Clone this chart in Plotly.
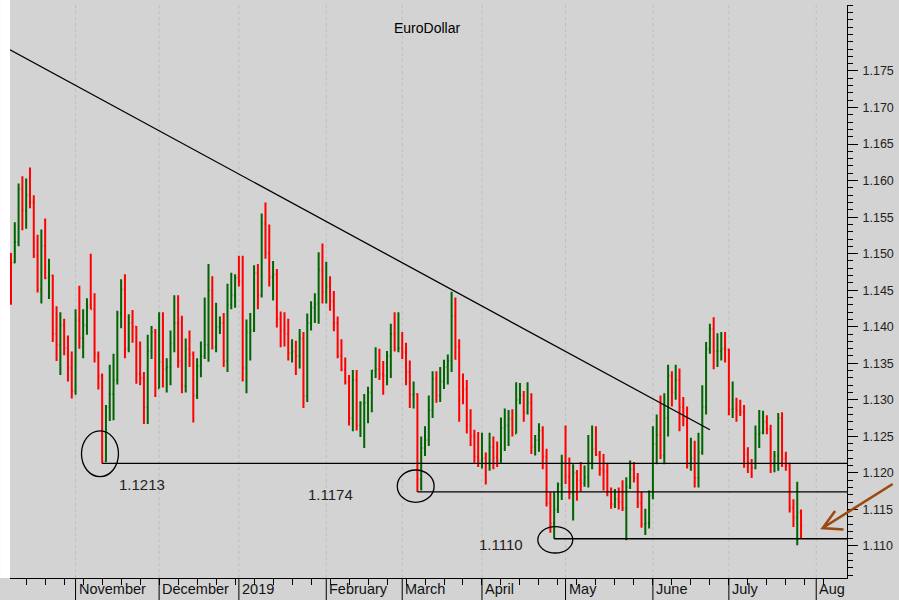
import pandas as pd
import plotly.graph_objects as go

# ---------------- data (EUR/USD daily bars) ----------------
dates = pd.bdate_range("2018-10-09", "2019-07-26")

opens = [
    1.1495, 1.1488, 1.1516, 1.1589, 1.1559, 1.1580, 1.1570, 1.1497, 1.1451, 1.1511,
    1.1467, 1.1470, 1.1390, 1.1375, 1.1402, 1.1371, 1.1344, 1.1312, 1.1409, 1.1385,
    1.1402, 1.1430, 1.1424, 1.1360, 1.1333, 1.1216, 1.1290, 1.1308, 1.1327, 1.1418,
    1.1451, 1.1370, 1.1405, 1.1400, 1.1335, 1.1330, 1.1290, 1.1367, 1.1393, 1.1316,
    1.1352, 1.1342, 1.1345, 1.1377, 1.1405, 1.1353, 1.1319, 1.1370, 1.1362, 1.1306,
    1.1346, 1.1360, 1.1375, 1.1450, 1.1372, 1.1400, 1.1405, 1.1353, 1.1430, 1.1443,
    1.1467, 1.1462, 1.1344, 1.1392, 1.1395, 1.1474, 1.1443, 1.1541, 1.1501, 1.1468,
    1.1472, 1.1411, 1.1395, 1.1390, 1.1364, 1.1366, 1.1360, 1.1384, 1.1305, 1.1405,
    1.1426, 1.1431, 1.1478, 1.1448, 1.1455, 1.1435, 1.1405, 1.1360, 1.1342, 1.1324,
    1.1275, 1.1327, 1.1265, 1.1295, 1.1296, 1.1310, 1.1340, 1.1342, 1.1335, 1.1333,
    1.1360, 1.1390, 1.1370, 1.1371, 1.1365, 1.1338, 1.1307, 1.1308, 1.1191, 1.1234,
    1.1245, 1.1286, 1.1329, 1.1306, 1.1325, 1.1345, 1.1353, 1.1415, 1.1373, 1.1318,
    1.1314, 1.1265, 1.1250, 1.1222, 1.1217, 1.1220, 1.1213, 1.1235, 1.1221, 1.1217,
    1.1261, 1.1265, 1.1274, 1.1254, 1.1300, 1.1306, 1.1283, 1.1296, 1.1236, 1.1245,
    1.1258, 1.1222, 1.1159, 1.1131, 1.1150, 1.1184, 1.1215, 1.1195, 1.1172, 1.1200,
    1.1190, 1.1186, 1.1194, 1.1215, 1.1233, 1.1225, 1.1205, 1.1202, 1.1174, 1.1157,
    1.1164, 1.1160, 1.1152, 1.1181, 1.1205, 1.1193, 1.1158, 1.1130, 1.1131, 1.1169,
    1.1240, 1.1252, 1.1224, 1.1275, 1.1333, 1.1310, 1.1327, 1.1290, 1.1275, 1.1210,
    1.1220, 1.1193, 1.1228, 1.1290, 1.1370, 1.1397, 1.1366, 1.1367, 1.1370, 1.1369,
    1.1287, 1.1288, 1.1285, 1.1283, 1.1225, 1.1213, 1.1207, 1.1253, 1.1255, 1.1270,
    1.1260, 1.1210, 1.1223, 1.1275, 1.1219, 1.1211, 1.1152, 1.1139, 1.1146,
]
highs = [
    1.1501, 1.1543, 1.1596, 1.1606, 1.1603, 1.1618, 1.1580, 1.1526, 1.1533, 1.1548,
    1.1493, 1.1471, 1.1428, 1.1420, 1.1411, 1.1388, 1.1366, 1.1424, 1.1456, 1.1424,
    1.1439, 1.1500, 1.1446, 1.1366, 1.1336, 1.1293, 1.1348, 1.1363, 1.1422, 1.1465,
    1.1472, 1.1417, 1.1423, 1.1401, 1.1380, 1.1338, 1.1389, 1.1401, 1.1397, 1.1420,
    1.1420, 1.1357, 1.1395, 1.1443, 1.1443, 1.1415, 1.1384, 1.1395, 1.1366, 1.1357,
    1.1380, 1.1440, 1.1486, 1.1469, 1.1433, 1.1414, 1.1419, 1.1459, 1.1474, 1.1472,
    1.1497, 1.1497, 1.1410, 1.1419, 1.1484, 1.1486, 1.1555, 1.1570, 1.1540, 1.1490,
    1.1479, 1.1421, 1.1420, 1.1411, 1.1383, 1.1381, 1.1397, 1.1393, 1.1418, 1.1435,
    1.1446, 1.1502, 1.1514, 1.1489, 1.1469, 1.1449, 1.1414, 1.1383, 1.1358, 1.1334,
    1.1341, 1.1341, 1.1298, 1.1308, 1.1318, 1.1341, 1.1372, 1.1370, 1.1353, 1.1367,
    1.1404, 1.1420, 1.1420, 1.1393, 1.1378, 1.1354, 1.1325, 1.1309, 1.1250, 1.1264,
    1.1306, 1.1339, 1.1339, 1.1345, 1.1355, 1.1362, 1.1448, 1.1440, 1.1383, 1.1336,
    1.1327, 1.1287, 1.1259, 1.1256, 1.1255, 1.1228, 1.1255, 1.1250, 1.1243, 1.1276,
    1.1288, 1.1286, 1.1287, 1.1324, 1.1323, 1.1312, 1.1324, 1.1309, 1.1252, 1.1268,
    1.1264, 1.1233, 1.1174, 1.1174, 1.1187, 1.1225, 1.1265, 1.1221, 1.1212, 1.1204,
    1.1215, 1.1210, 1.1252, 1.1265, 1.1264, 1.1230, 1.1226, 1.1214, 1.1180, 1.1178,
    1.1180, 1.1190, 1.1194, 1.1217, 1.1215, 1.1200, 1.1174, 1.1151, 1.1176, 1.1264,
    1.1280, 1.1306, 1.1309, 1.1348, 1.1339, 1.1348, 1.1343, 1.1304, 1.1291, 1.1248,
    1.1244, 1.1255, 1.1320, 1.1379, 1.1404, 1.1413, 1.1391, 1.1393, 1.1393, 1.1370,
    1.1325, 1.1303, 1.1300, 1.1293, 1.1235, 1.1219, 1.1265, 1.1286, 1.1285, 1.1279,
    1.1266, 1.1230, 1.1282, 1.1283, 1.1229, 1.1214, 1.1164, 1.1188, 1.1150,
]
lows = [
    1.1430, 1.1487, 1.1510, 1.1532, 1.1534, 1.1562, 1.1494, 1.1447, 1.1432, 1.1465,
    1.1438, 1.1379, 1.1353, 1.1334, 1.1361, 1.1325, 1.1302, 1.1307, 1.1370, 1.1357,
    1.1389, 1.1424, 1.1351, 1.1314, 1.1213, 1.1215, 1.1271, 1.1272, 1.1321, 1.1398,
    1.1357, 1.1365, 1.1378, 1.1322, 1.1320, 1.1267, 1.1267, 1.1356, 1.1304, 1.1316,
    1.1317, 1.1310, 1.1320, 1.1365, 1.1344, 1.1309, 1.1310, 1.1345, 1.1269, 1.1301,
    1.1331, 1.1356, 1.1352, 1.1369, 1.1365, 1.1390, 1.1345, 1.1338, 1.1424, 1.1426,
    1.1455, 1.1325, 1.1309, 1.1354, 1.1393, 1.1424, 1.1440, 1.1493, 1.1455, 1.1436,
    1.1399, 1.1372, 1.1373, 1.1354, 1.1351, 1.1334, 1.1343, 1.1289, 1.1297, 1.1395,
    1.1405, 1.1404, 1.1432, 1.1432, 1.1422, 1.1394, 1.1357, 1.1339, 1.1321, 1.1265,
    1.1257, 1.1258, 1.1249, 1.1234, 1.1268, 1.1283, 1.1330, 1.1327, 1.1307, 1.1320,
    1.1330, 1.1366, 1.1365, 1.1356, 1.1320, 1.1289, 1.1288, 1.1174, 1.1176, 1.1223,
    1.1237, 1.1275, 1.1296, 1.1297, 1.1315, 1.1321, 1.1338, 1.1355, 1.1270, 1.1294,
    1.1254, 1.1237, 1.1214, 1.1208, 1.1206, 1.1184, 1.1203, 1.1205, 1.1208, 1.1214,
    1.1230, 1.1237, 1.1250, 1.1254, 1.1294, 1.1270, 1.1280, 1.1226, 1.1224, 1.1229,
    1.1205, 1.1154, 1.1118, 1.1110, 1.1145, 1.1163, 1.1185, 1.1164, 1.1135, 1.1162,
    1.1175, 1.1181, 1.1180, 1.1205, 1.1223, 1.1196, 1.1176, 1.1168, 1.1151, 1.1152,
    1.1150, 1.1148, 1.1108, 1.1178, 1.1187, 1.1152, 1.1125, 1.1115, 1.1124, 1.1164,
    1.1212, 1.1219, 1.1212, 1.1250, 1.1291, 1.1300, 1.1257, 1.1264, 1.1206, 1.1203,
    1.1180, 1.1180, 1.1225, 1.1280, 1.1363, 1.1342, 1.1345, 1.1354, 1.1351, 1.1279,
    1.1275, 1.1270, 1.1278, 1.1207, 1.1200, 1.1193, 1.1205, 1.1234, 1.1253, 1.1253,
    1.1200, 1.1201, 1.1203, 1.1208, 1.1203, 1.1146, 1.1126, 1.1101, 1.1111,
]
closes = [
    1.1488, 1.1516, 1.1589, 1.1559, 1.1580, 1.1570, 1.1497, 1.1451, 1.1511, 1.1467,
    1.1470, 1.1390, 1.1375, 1.1402, 1.1371, 1.1344, 1.1312, 1.1409, 1.1385, 1.1402,
    1.1427, 1.1424, 1.1363, 1.1333, 1.1216, 1.1290, 1.1308, 1.1327, 1.1418, 1.1451,
    1.1370, 1.1405, 1.1400, 1.1335, 1.1330, 1.1290, 1.1367, 1.1393, 1.1316, 1.1352,
    1.1342, 1.1345, 1.1377, 1.1405, 1.1353, 1.1319, 1.1370, 1.1362, 1.1306, 1.1346,
    1.1360, 1.1375, 1.1450, 1.1372, 1.1400, 1.1405, 1.1353, 1.1430, 1.1443, 1.1467,
    1.1462, 1.1344, 1.1392, 1.1395, 1.1474, 1.1443, 1.1541, 1.1501, 1.1468, 1.1472,
    1.1411, 1.1395, 1.1390, 1.1364, 1.1366, 1.1360, 1.1384, 1.1305, 1.1405, 1.1426,
    1.1431, 1.1478, 1.1448, 1.1455, 1.1435, 1.1405, 1.1360, 1.1342, 1.1324, 1.1275,
    1.1327, 1.1265, 1.1295, 1.1296, 1.1310, 1.1340, 1.1342, 1.1335, 1.1333, 1.1360,
    1.1390, 1.1370, 1.1371, 1.1365, 1.1338, 1.1307, 1.1308, 1.1191, 1.1234, 1.1245,
    1.1286, 1.1329, 1.1306, 1.1325, 1.1345, 1.1353, 1.1415, 1.1373, 1.1300, 1.1314,
    1.1265, 1.1250, 1.1222, 1.1217, 1.1220, 1.1213, 1.1235, 1.1221, 1.1217, 1.1261,
    1.1265, 1.1274, 1.1254, 1.1300, 1.1306, 1.1283, 1.1296, 1.1236, 1.1245, 1.1258,
    1.1222, 1.1159, 1.1131, 1.1150, 1.1184, 1.1215, 1.1195, 1.1172, 1.1200, 1.1190,
    1.1186, 1.1194, 1.1215, 1.1233, 1.1225, 1.1205, 1.1202, 1.1174, 1.1157, 1.1164,
    1.1160, 1.1152, 1.1181, 1.1205, 1.1193, 1.1158, 1.1130, 1.1131, 1.1169, 1.1240,
    1.1252, 1.1224, 1.1275, 1.1333, 1.1310, 1.1327, 1.1290, 1.1275, 1.1210, 1.1220,
    1.1193, 1.1228, 1.1290, 1.1370, 1.1397, 1.1366, 1.1367, 1.1370, 1.1369, 1.1287,
    1.1288, 1.1285, 1.1283, 1.1225, 1.1213, 1.1207, 1.1253, 1.1255, 1.1270, 1.1260,
    1.1210, 1.1223, 1.1275, 1.1219, 1.1211, 1.1152, 1.1139, 1.1146, 1.1128,
]

y_tick_values = [1.110, 1.115, 1.120, 1.125, 1.130, 1.135, 1.140, 1.145,
                 1.150, 1.155, 1.160, 1.165, 1.170, 1.175]
month_names = ["November", "December", "2019", "February", "March",
               "April", "May", "June", "July", "Aug"]

support_levels = [1.1213, 1.1174, 1.1110]
support_labels = ["1.1213", "1.1174", "1.1110"]
support_start_dates = ["2018-11-12", "2019-03-07", "2019-04-26"]

trend_start = ("2018-10-09", 1.1779)
trend_end = ("2019-06-24", 1.1259)

# ---------------- index helpers (bars are spaced by trading day) ----------------
axis_days = pd.bdate_range("2018-10-09", "2019-08-09")
day_pos = {d.strftime("%Y-%m-%d"): i for i, d in enumerate(axis_days)}
x = list(range(len(dates)))
month_idx = [i for i in range(1, len(axis_days))
             if axis_days[i].month != axis_days[i - 1].month]
monday_idx = [i for i, d in enumerate(axis_days) if d.weekday() == 0]

X_RANGE = [-0.26, 220.1]
Y_RANGE = [1.10562, 1.18403]

fig = go.Figure()
fig.add_trace(go.Ohlc(
    x=x, open=opens, high=highs, low=lows, close=closes,
    increasing=dict(line=dict(color="#006400", width=2)),
    decreasing=dict(line=dict(color="#ff0000", width=2)),
    tickwidth=0.3, showlegend=False, hoverinfo="skip",
))

shapes = []
# white strip at far left
shapes.append(dict(type="rect", xref="paper", yref="paper",
                   x0=-10 / 843, x1=0, y0=0, y1=1 + 5 / 573,
                   fillcolor="white", line=dict(width=0), layer="below"))
# dotted month grid lines and long month ticks
for m in month_idx:
    shapes.append(dict(type="line", xref="x", yref="paper", x0=m, x1=m, y0=0, y1=1,
                       line=dict(color="#bdbdbd", width=1, dash="dot"), layer="below"))
    shapes.append(dict(type="line", xref="x", yref="paper", x0=m, x1=m,
                       y0=-22 / 573, y1=0, line=dict(color="black", width=1)))
# trend line
shapes.append(dict(type="line", xref="x", yref="y",
                   x0=-0.26, y0=trend_start[1],
                   x1=day_pos[trend_end[0]], y1=trend_end[1],
                   line=dict(color="black", width=1.3)))
# support lines
for lvl, d in zip(support_levels, support_start_dates):
    shapes.append(dict(type="line", xref="x", yref="y",
                       x0=day_pos[d], x1=X_RANGE[1], y0=lvl, y1=lvl,
                       line=dict(color="black", width=1.4)))
# ellipses around the lows
ellipses = [(18.56, 28.3, 1.11948, 1.12574),
            (101.7, 111.4, 1.11598, 1.12040),
            (138.7, 147.9, 1.10904, 1.11264)]
for x0, x1, y0, y1 in ellipses:
    shapes.append(dict(type="circle", xref="x", yref="y", x0=x0, x1=x1, y0=y0, y1=y1,
                       line=dict(color="black", width=1.3)))
# brown arrow
def P(px, py):
    return f"{(px - 10) / 843:.5f},{(578 - py) / 573:.5f}"
arrow_path = (f"M {P(899, 484)} L {P(828.5, 528)} "
              f"M {P(841, 511)} L {P(828.5, 528)} L {P(849.5, 529.5)}")
shapes.append(dict(type="path", xref="paper", yref="paper", path=arrow_path,
                   line=dict(color="#9a4a10", width=2.6)))

annotations = []
annotations.append(dict(text="EuroDollar", xref="paper", yref="paper",
                        x=(430 - 10) / 843, y=(578 - 18) / 573, showarrow=False,
                        font=dict(size=14, color="black")))
label_pos = [(34.5, 1.11835), (84.2, 1.11698), (129.1, 1.11027)]
for txt, (lx, ly) in zip(support_labels, label_pos):
    annotations.append(dict(text=txt, xref="x", yref="y", x=lx, y=ly, showarrow=False,
                            font=dict(size=15, color="#222222")))
for m, name in zip(month_idx, month_names):
    annotations.append(dict(text=name, xref="x", yref="paper", x=m, y=-11 / 573,
                            xanchor="left", yanchor="middle", xshift=1, showarrow=False,
                            font=dict(size=14.5, color="#111111")))

fig.update_layout(
    width=899, height=600,
    margin=dict(l=10, r=46, t=5, b=22),
    paper_bgcolor="#d3d3d3", plot_bgcolor="#d3d3d3",
    font=dict(family="Liberation Sans, Arial, sans-serif", color="#222222"),
    shapes=shapes, annotations=annotations, showlegend=False,
    xaxis=dict(range=X_RANGE, showline=True, linecolor="black", linewidth=1,
               ticks="outside", tickmode="array", tickvals=monday_idx, ticklen=6,
               tickcolor="black", showticklabels=False, showgrid=False,
               zeroline=False, rangeslider=dict(visible=False), fixedrange=True),
    yaxis=dict(range=Y_RANGE, side="right", showline=True, linecolor="black",
               linewidth=1, ticks="outside", tickmode="array", tickvals=y_tick_values,
               tickformat=".3f", ticklen=10, tickcolor="black",
               tickfont=dict(size=12.5, color="#222222"), ticklabelstandoff=2,
               minor=dict(dtick=0.001, tick0=1.11, ticks="outside", ticklen=5,
                          tickcolor="black", showgrid=False),
               showgrid=False, zeroline=False, fixedrange=True),
)

fig.write_html("out.html",
               config={"displayModeBar": False},
               post_script="document.body.style.margin='0';"
                           "document.body.style.padding='0';")
